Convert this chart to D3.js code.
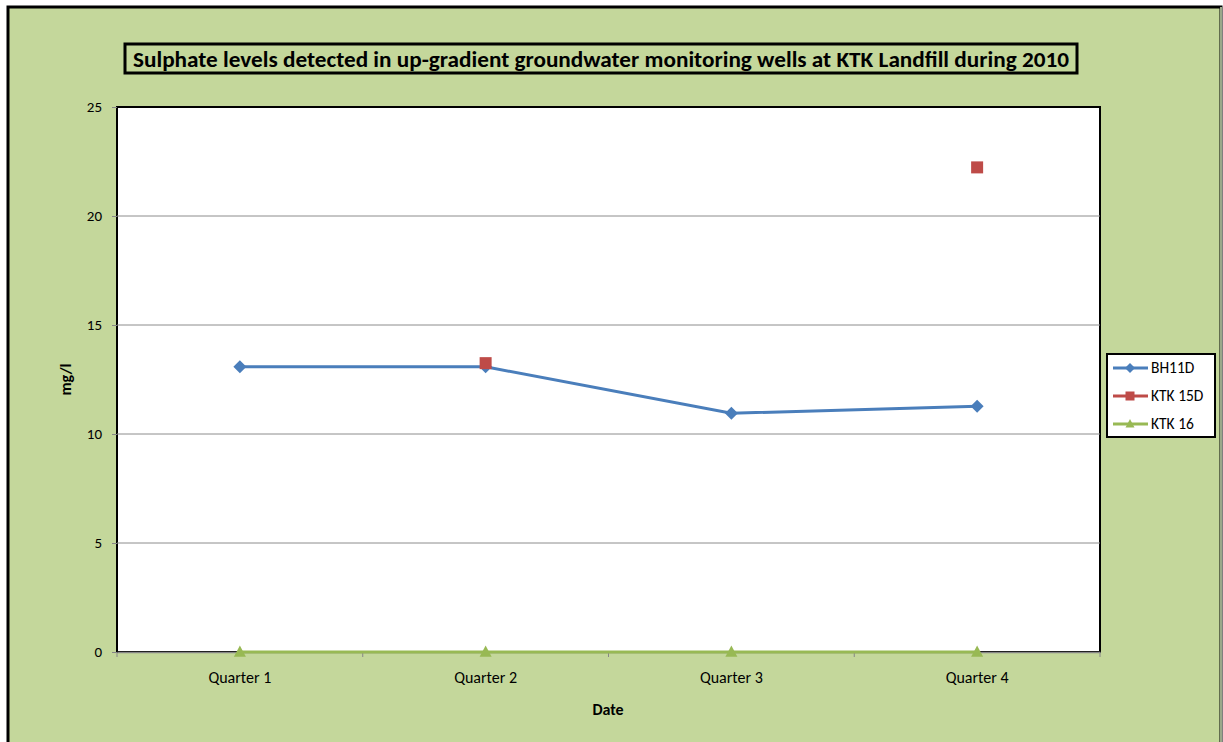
<!DOCTYPE html>
<html>
<head>
<meta charset="utf-8">
<script src="https://cdn.jsdelivr.net/npm/d3@7"></script>
<style>
  body { margin: 0; background: #ffffff; }
  text { font-family: Calibri, Carlito, "Open Sans", "Noto Sans", sans-serif; }
</style>
</head>
<body>
<svg id="chart" width="1223" height="742"></svg>
<script>
// Chart data
var quarters = ["Quarter 1", "Quarter 2", "Quarter 3", "Quarter 4"];
var seriesNames = ["BH11D", "KTK 15D", "KTK 16"];
var bh11d = [13.08, 13.08, 10.95, 11.27];
var ktk15d = [null, 13.25, null, 22.23];
var ktk16 = [0, 0, 0, 0];
var yTicks = [0, 5, 10, 15, 20, 25];

var colors = ["#4a7ebb", "#be4b48", "#98b954"];
var seriesValues = [bh11d, ktk15d, ktk16];

var svg = d3.select("#chart");

// Outer chart area
svg.append("rect")
    .attr("x", 8).attr("y", 7)
    .attr("width", 1213).attr("height", 745)
    .style("fill", "#c4d79b")
    .style("stroke", "#000")
    .style("stroke-width", 3);
svg.append("line")
    .attr("x1", 1221).attr("y1", 7).attr("x2", 1221).attr("y2", 742)
    .style("stroke", "#9aa88a").style("stroke-width", 2);

// Plot area bounds (avoid "top", which is a window property)
var plotLeft = 117, plotRight = 1100, plotTop = 107, plotBottom = 652;

var x = d3.scaleBand()
    .domain(quarters)
    .range([plotLeft, plotRight]);

var y = d3.scaleLinear()
    .domain([0, 25])
    .range([plotBottom, plotTop]);

svg.append("rect")
    .attr("x", plotLeft).attr("y", plotTop)
    .attr("width", plotRight - plotLeft).attr("height", plotBottom - plotTop)
    .style("fill", "#fff")
    .style("stroke", "#000")
    .style("stroke-width", 2);

// Gridlines
svg.selectAll(".grid")
    .data(yTicks.filter(function(d) { return d > 0 && d < 25; }))
    .enter().append("line")
    .attr("class", "grid")
    .attr("x1", plotLeft).attr("x2", plotRight)
    .attr("y1", function(d) { return y(d); })
    .attr("y2", function(d) { return y(d); })
    .style("stroke", "#8c8c8c")
    .style("stroke-width", 1);

// Y axis
var yAxis = svg.append("g")
    .attr("transform", "translate(" + plotLeft + ",0)")
    .call(d3.axisLeft(y).tickValues(yTicks).tickSize(5).tickPadding(10));
yAxis.select(".domain").remove();
yAxis.selectAll(".tick line").style("stroke", "#868686");
yAxis.selectAll("text")
    .style("font-size", "15px")
    .style("fill", "#000")
    .style("font-family", "Calibri, Carlito, 'Open Sans', sans-serif");

// X axis
var xAxis = svg.append("g")
    .attr("transform", "translate(0," + plotBottom + ")")
    .call(d3.axisBottom(x).tickSize(0).tickPadding(20));
xAxis.select(".domain").style("stroke", "#868686").style("stroke-width", 1.5);
xAxis.selectAll("text")
    .style("font-size", "16px")
    .style("fill", "#000")
    .style("font-family", "Calibri, Carlito, 'Open Sans', sans-serif");

// X ticks at category boundaries
var bounds = quarters.map(function(q) { return x(q); }).concat([x(quarters[3]) + x.bandwidth()]);
svg.selectAll(".xtick")
    .data(bounds)
    .enter().append("line")
    .attr("class", "xtick")
    .attr("x1", function(d) { return d; }).attr("x2", function(d) { return d; })
    .attr("y1", plotBottom).attr("y2", plotBottom + 5)
    .style("stroke", "#868686");

// Axis titles
svg.append("text")
    .attr("x", 608).attr("y", 715)
    .attr("text-anchor", "middle")
    .style("font-size", "16px")
    .style("font-weight", "bold")
    .text("Date");

svg.append("text")
    .attr("transform", "translate(71," + (plotTop + plotBottom) / 2 + ") rotate(-90)")
    .attr("text-anchor", "middle")
    .style("font-size", "16px")
    .style("font-weight", "bold")
    .text("mg/l");

// Title
svg.append("rect")
    .attr("x", 125).attr("y", 44)
    .attr("width", 952).attr("height", 29)
    .style("fill", "#c4d79b")
    .style("stroke", "#000")
    .style("stroke-width", 3);
svg.append("text")
    .attr("x", 601).attr("y", 67)
    .attr("text-anchor", "middle")
    .attr("textLength", 936)
    .attr("lengthAdjust", "spacingAndGlyphs")
    .style("font-size", "23px")
    .style("font-weight", "bold")
    .text("Sulphate levels detected in up-gradient groundwater monitoring wells at KTK Landfill during 2010");

function cx(i) { return x(quarters[i]) + x.bandwidth() / 2; }

var line = d3.line()
    .defined(function(d) { return d != null; })
    .x(function(d, i) { return cx(i); })
    .y(function(d) { return y(d); });

// Markers
function drawMarker(g, s, px, py, size) {
    if (s === 0) {
        var h = size / 2 + 1;
        g.append("path")
            .attr("d", "M" + px + "," + (py - h) + "L" + (px + h) + "," + py + "L" + px + "," + (py + h) + "L" + (px - h) + "," + py + "Z")
            .style("fill", colors[0]);
    } else if (s === 1) {
        g.append("rect")
            .attr("x", px - size / 2).attr("y", py - size / 2)
            .attr("width", size).attr("height", size)
            .style("fill", colors[1]);
    } else {
        g.append("path")
            .attr("d", "M" + px + "," + (py - size * 0.55) + "L" + (px + size / 2) + "," + (py + size * 0.4) + "L" + (px - size / 2) + "," + (py + size * 0.4) + "Z")
            .style("fill", colors[2]);
    }
}

// Draw series: green first, then blue, then red
[2, 0, 1].forEach(function(s) {
    var vals = seriesValues[s];
    var g = svg.append("g");
    g.append("path")
        .datum(vals)
        .attr("d", line)
        .style("fill", "none")
        .style("stroke", colors[s])
        .style("stroke-width", 3);
    vals.forEach(function(v, i) {
        if (v == null) return;
        drawMarker(g, s, cx(i), y(v), s === 0 ? 11 : 12);
    });
});

// Legend
var legend = svg.append("g");
legend.append("rect")
    .attr("x", 1107).attr("y", 354)
    .attr("width", 108).attr("height", 83)
    .style("fill", "#fff")
    .style("stroke", "#000")
    .style("stroke-width", 2);
seriesNames.forEach(function(name, s) {
    var ly = 368 + s * 28;
    legend.append("line")
        .attr("x1", 1113).attr("x2", 1148)
        .attr("y1", ly).attr("y2", ly)
        .style("stroke", colors[s])
        .style("stroke-width", 3);
    drawMarker(legend, s, 1130, ly, s === 0 ? 8 : 9);
    legend.append("text")
        .attr("x", 1151).attr("y", ly + 5)
        .style("font-size", "15.5px")
        .text(name);
});
</script>
</body>
</html>
